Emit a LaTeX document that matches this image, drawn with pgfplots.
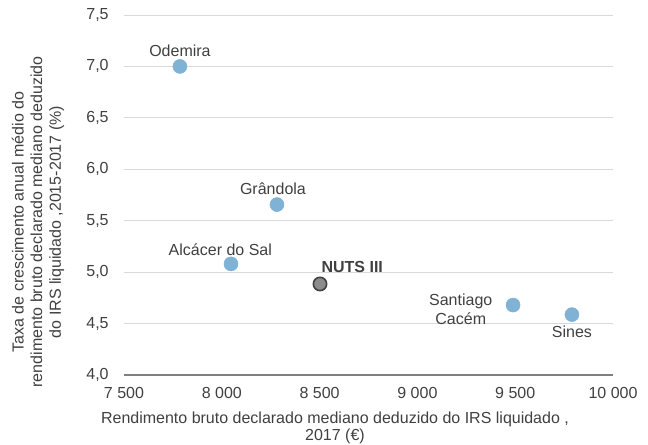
\documentclass[border=0pt]{standalone}
\usepackage{pgfplots}
\pgfplotsset{compat=1.18}
\usepackage{fontspec}
\setmainfont{Liberation Sans}
\definecolor{ptblue}{HTML}{7FB2D5}
\definecolor{ptgrey}{HTML}{8C8C8C}
\definecolor{txt}{HTML}{404040}
\definecolor{gridc}{HTML}{D9D9D9}
\definecolor{axisc}{HTML}{808080}
\newcommand{\fs}{\fontsize{12}{14}\selectfont}
\begin{document}
\begin{tikzpicture}[x=1pt,y=1pt]
\begin{axis}[
  at={(0,0)}, anchor=south west,
  scale only axis, width=366.75pt, height=270pt,
  xmin=7500, xmax=10000, ymin=4, ymax=7.5,
  xtick={7500,8000,8500,9000,9500,10000},
  ytick={4,4.5,5,5.5,6,6.5,7,7.5},
  scaled x ticks=false, scaled y ticks=false,
  axis x line*=bottom, axis y line*=left,
  x axis line style={axisc, line width=1.3pt, -},
  y axis line style={draw=none},
  ymajorgrids, grid style={gridc, line width=0.7pt},
  major tick length=0pt,
  tick label style={font=\fs, text=txt},
  /pgf/number format/assume math mode=true,
  xticklabel style={yshift=-6pt, /pgf/number format/fixed, /pgf/number format/1000 sep={\ }, /pgf/number format/precision=0},
  yticklabel style={xshift=-8pt, /pgf/number format/use comma, /pgf/number format/fixed, /pgf/number format/fixed zerofill, /pgf/number format/precision=1},
  clip=false,
]
\addplot[only marks, mark=*, mark size=5.25pt, mark options={draw=ptblue, fill=ptblue}] coordinates {(7786,7.0)} node[above=4pt, font=\fs, text=txt] {Odemira};
\addplot[only marks, mark=*, mark size=5.25pt, mark options={draw=ptblue, fill=ptblue}] coordinates {(8282,5.657)} node[above=4pt, xshift=-3pt, font=\fs, text=txt] {Grândola};
\addplot[only marks, mark=*, mark size=5.25pt, mark options={draw=ptblue, fill=ptblue}] coordinates {(8047,5.08)} node[above=3pt, xshift=-8pt, font=\fs, text=txt] {Alcácer do Sal};
\addplot[only marks, mark=*, mark size=5pt, mark options={draw=txt, fill=ptgrey, line width=1.2pt}] coordinates {(8502,4.885)} node[anchor=south west, xshift=1pt, yshift=5pt, inner xsep=0pt, font=\bfseries\fs, text=txt] {NUTS III};
\addplot[only marks, mark=*, mark size=5.25pt, mark options={draw=ptblue, fill=ptblue}] coordinates {(9489,4.68)} node[anchor=east, xshift=-12pt, yshift=-3pt, align=center, font=\fs, text=txt] {Santiago\\Cacém};
\addplot[only marks, mark=*, mark size=5.25pt, mark options={draw=ptblue, fill=ptblue}] coordinates {(9790,4.587)} node[below=5pt, font=\fs, text=txt] {Sines};
\end{axis}
\node[rotate=90, align=center, font=\fontsize{12}{14}\selectfont, text=txt] at (-64.5pt,114.75pt) {Taxa de crescimento anual médio do\\rendimento bruto declarado mediano deduzido\\do IRS liquidado ,2015-2017 (\%)};
\node[align=center, font=\fontsize{12}{13}\selectfont, text=txt] at (158.25pt,-39.75pt) {Rendimento bruto declarado mediano deduzido do IRS liquidado ,\\2017 (€)};
\pgfresetboundingbox
\path (-93pt,-52.5pt) rectangle (393pt,281.25pt);
\end{tikzpicture}
\end{document}
